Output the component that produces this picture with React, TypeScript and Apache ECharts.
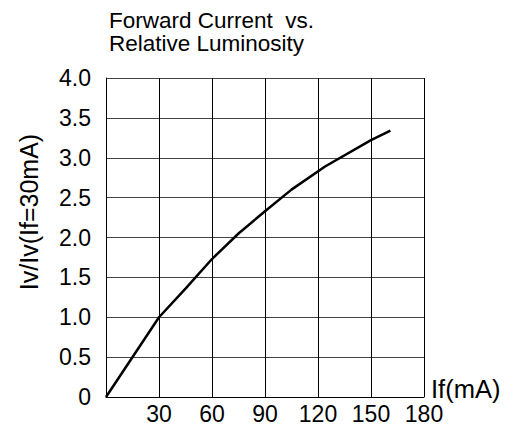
import React, { useEffect, useRef } from "react";
import * as echarts from "echarts";

const currentMA = [0, 30, 45, 60, 75, 90, 105, 124, 150, 161];
const relLum = [0, 1.0, 1.36, 1.73, 2.05, 2.33, 2.6, 2.89, 3.22, 3.34];
const titleLines = ["Forward Current  vs.", "Relative Luminosity"];
const xName = "If(mA)";
const yName = "Iv/Iv(If=30mA)";

const FONT = "'Liberation Sans', Arial, sans-serif";

export default function App() {
  const ref = useRef<HTMLDivElement>(null);
  useEffect(() => {
    if (!ref.current) return;
    const chart = echarts.init(ref.current, undefined, { renderer: "svg" });
    const data = currentMA.map((x, i) => [x, relLum[i]]);
    chart.setOption({
      animation: false,
      backgroundColor: "#fff",
      title: {
        text: titleLines.join("\n"),
        left: 109,
        top: 9.5,
        padding: 0,
        textStyle: { fontSize: 22.5, fontWeight: "normal", color: "#000", fontFamily: FONT, lineHeight: 22.5 },
      },
      grid: { left: 106, top: 78, width: 318, height: 319, containLabel: false, outerBoundsMode: "none" },
      graphic: [
        {
          type: "text",
          x: 29,
          y: 212,
          rotation: Math.PI / 2,
          style: {
            text: yName,
            fontSize: 25,
            fontFamily: FONT,
            fill: "#000",
            align: "center",
            verticalAlign: "middle",
          },
        },
        {
          type: "text",
          x: 431,
          y: 388.5,
          style: {
            text: xName,
            fontSize: 25.5,
            lineHeight: 23,
            fontFamily: FONT,
            fill: "#000",
            align: "left",
            verticalAlign: "middle",
          },
        },
      ],
      xAxis: {
        type: "value",
        min: 0,
        max: 180,
        interval: 30,
        axisLine: { show: true, lineStyle: { color: "#000", width: 1 } },
        axisTick: { show: false },
        axisLabel: {
          fontSize: 23,
          fontFamily: FONT,
          color: "#000",
          margin: 5,
          formatter: (v: number) => (v === 0 ? "" : String(v)),
        },
        splitLine: { show: true, lineStyle: { color: "#000", width: 1 } },
      },
      yAxis: {
        type: "value",
        min: 0,
        max: 4,
        interval: 0.5,
        axisLine: { show: true, lineStyle: { color: "#000", width: 1 } },
        axisTick: { show: false },
        axisLabel: {
          fontSize: 23,
          fontFamily: FONT,
          color: "#000",
          margin: 15,
          formatter: (v: number) => (v === 0 ? "0" : v.toFixed(1)),
        },
        splitLine: { show: true, lineStyle: { color: "#444", width: 1 } },
      },
      series: [
        {
          type: "line",
          data,
          showSymbol: false,
          lineStyle: { color: "#000", width: 2.5 },
        },
      ],
    });
    return () => chart.dispose();
  }, []);
  return (
    <div
      ref={ref}
      style={{ position: "fixed", left: 0, top: 0, width: 513, height: 430 }}
    />
  );
}
